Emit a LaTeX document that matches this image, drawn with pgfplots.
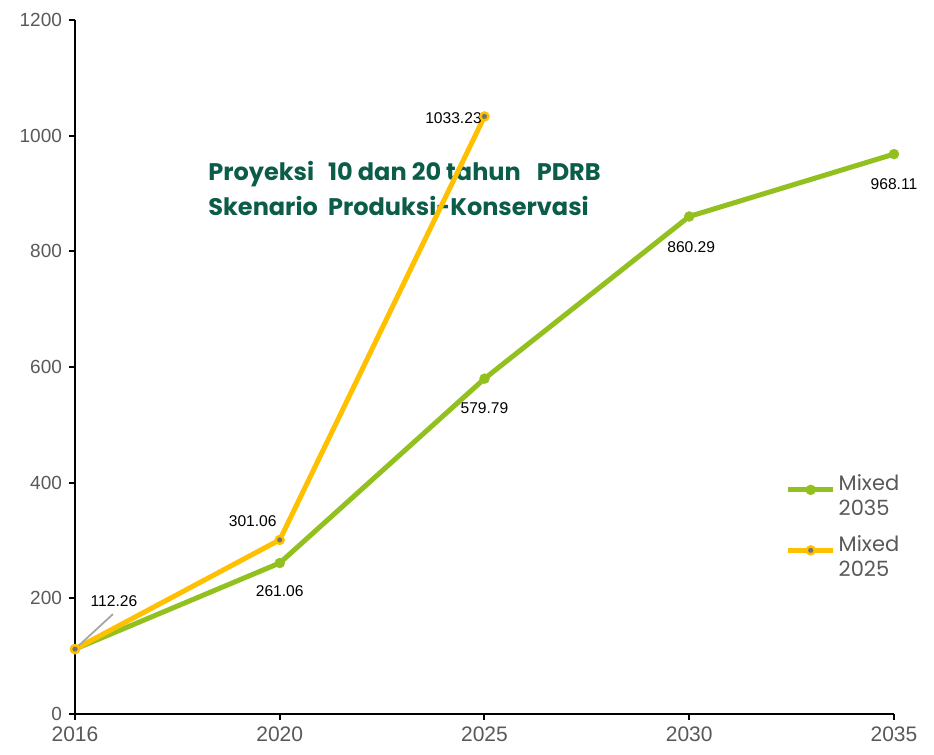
\documentclass[border=0pt]{standalone}
\usepackage{pgfplots}
\pgfplotsset{compat=1.18}
\usepackage{fontspec}
\setmainfont{Liberation Sans}
\newfontfamily\gothic{Poppins}
\definecolor{grn}{HTML}{92C11F}
\definecolor{ylw}{HTML}{FFC000}
\definecolor{ttl}{HTML}{0B5C48}
\definecolor{tick}{HTML}{595959}
\newcommand\twol[2]{\begin{tabular}{@{}l@{}}#1\\#2\end{tabular}}
\begin{document}
\begin{tikzpicture}
\path[use as bounding box] (-37.5pt,-20.5pt) rectangle (429.5pt,357pt);
\node[anchor=west, align=left, text=ttl, font=\gothic\bfseries\fontsize{12}{17.5}\selectfont, inner sep=0pt] at (66.5pt,263pt) {Proyeksi\hspace{7pt}10 dan 20 tahun\hspace{8pt}PDRB\\Skenario\ \ Produksi-Konservasi};
\begin{axis}[
  scale only axis, width=409.5pt, height=347pt,
  xmin=0, xmax=4, ymin=0, ymax=1200,
  xtick={0,1,2,3,4}, xticklabels={2016,2020,2025,2030,2035},
  ytick={0,200,...,1200},
  axis x line*=bottom, axis y line*=left,
  axis line style={line width=1pt, -},
  tick style={line width=1pt, black},
  tick align=outside, major tick length=3pt,
  x tick label style={font=\fontsize{10.5}{11}\selectfont, text=tick},
  y tick label style={font=\fontsize{9.5}{10}\selectfont, text=tick},
  yticklabel style={/pgf/number format/1000 sep={}},
  /pgf/number format/assume math mode=true,
  clip=false,
  legend style={at={(axis cs:3.44,431)}, anchor=north west, draw=none, fill=none,
    font=\gothic\fontsize{10.5}{12.5}\selectfont, text=tick, row sep=9.5pt,
    nodes={inner xsep=1.5pt}},
  legend cell align=left,
  legend image code/.code={
    \draw[mark repeat=2,mark phase=2,#1] plot coordinates {(0pt,0pt) (11.25pt,0pt) (22.5pt,0pt)};
  },
]
\addplot[color=grn, line width=2.5pt, mark=*, mark size=2.5pt, mark options={solid, fill=grn, draw=grn, line width=0.2pt}]
  coordinates {(0,112.26) (1,261.06) (2,579.79) (3,860.29) (4,968.11)};
\addlegendentry{\twol{Mixed}{2035}}
\addplot[color=ylw, line width=2.5pt, mark=*, mark size=2pt, mark options={solid, fill=black!55, draw=ylw, line width=1.2pt}]
  coordinates {(0,112.26) (1,301.06) (2,1033.23)};
\addlegendentry{\twol{Mixed}{2025}}
\draw[gray!70, line width=0.9pt] (axis cs:0,112.26) -- ++(19pt,17.5pt);
\begin{scope}[font=\fontsize{7.8}{9}\selectfont]
\node at (axis cs:0,112.26) [xshift=19.5pt, yshift=24pt] {112.26};
\node at (axis cs:1,301.06) [xshift=-13.5pt, yshift=9.5pt] {301.06};
\node at (axis cs:1,261.06) [yshift=-14pt] {261.06};
\node at (axis cs:2,1033.23) [xshift=-15.5pt, yshift=-1pt] {1033.23};
\node at (axis cs:2,579.79) [yshift=-14.5pt] {579.79};
\node at (axis cs:3,860.29) [xshift=1pt, yshift=-15.5pt] {860.29};
\node at (axis cs:4,968.11) [yshift=-15pt] {968.11};
\end{scope}
\end{axis}
\end{tikzpicture}
\end{document}
